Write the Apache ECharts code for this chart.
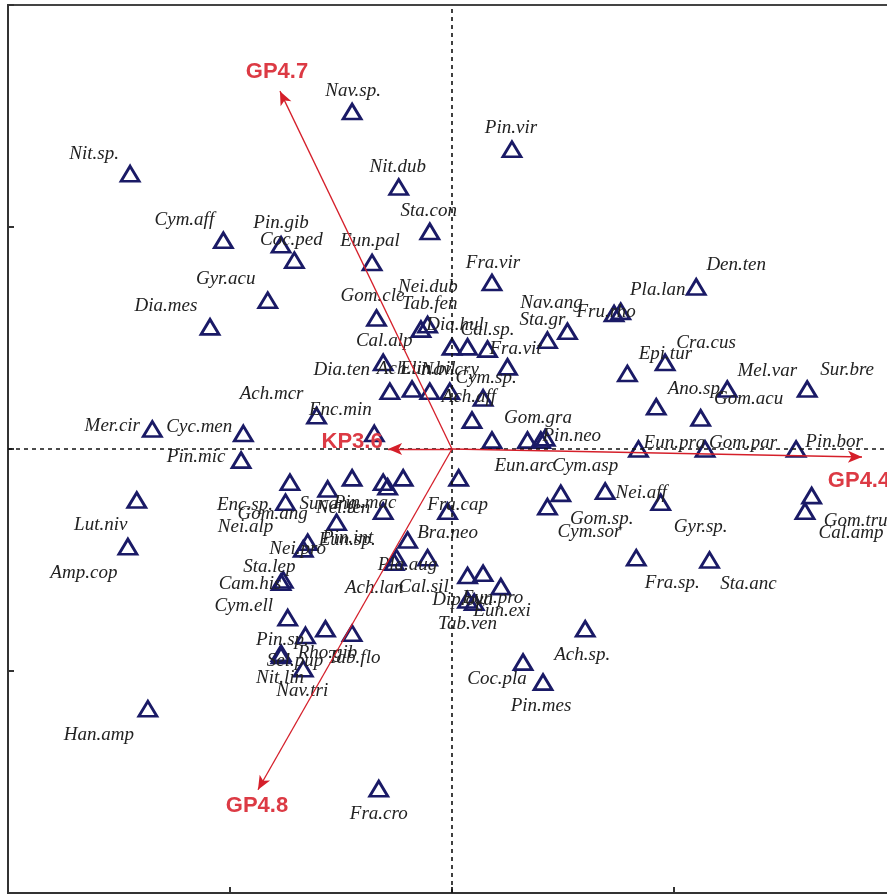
<!DOCTYPE html>
<html>
<head>
<meta charset="utf-8">
<script src="https://cdn.jsdelivr.net/npm/echarts@6/dist/echarts.min.js"></script>
<style>
html, body { margin: 0; padding: 0; background: #fff; }
#chart { width: 887px; height: 895px; }
</style>
</head>
<body>
<div id="chart"></div>
<script>
// species scores (axis 1, axis 2)
const speciesNames = [
  "Nav.sp.", "Nit.sp.", "Pin.vir", "Nit.dub", "Sta.con", "Cym.aff", "Pin.gib", "Coc.ped", "Eun.pal", "Gyr.acu",
  "Dia.mes", "Fra.vir", "Den.ten", "Pla.lan", "Fru.rho", "Sta.gr", "Nav.ang", "Gom.cle", "Nei.dub", "Tab.fen",
  "Dia.hul", "Cal.sp.", "Nav.rad", "Fra.vit", "Cal.alp", "Dia.ten", "Ach.lin", "Eun.bil", "Nav.cry", "Cym.sp.",
  "Ach.aff", "Ach.mcr", "Enc.min", "Gom.gra", "Eun.arc", "Pin.neo", "Cym.asp", "Mer.cir", "Cyc.men", "Pin.mic",
  "Eun.pra", "Gom.par", "Pin.bor", "Sur.bre", "Mel.var", "Ano.sp.", "Gom.acu", "Cra.cus", "Epi.tur", "Nei.aff",
  "Gyr.sp.", "Fra.sp.", "Sta.anc", "Gom.tru", "Cal.amp", "Gom.sp.", "Cym.sor", "Ach.sp.", "Coc.pla", "Pin.mes",
  "Fra.cap", "Ach.exi", "Bra.neo", "Pla.aug", "Cal.sil", "Ach.lan", "Tab.ven", "Eun.exi", "Eun.pro", "Dip.ova",
  "Nav.gre", "Lut.niv", "Amp.cop", "Han.amp", "Fra.cro", "Enc.sp.", "Nei.alp", "Gom.ang", "Pin.mac", "Sur.ang",
  "Nei.ten", "Sel.lae", "Pin.int", "Eun.sp.", "Nei.pro", "Nei.gro", "Sta.lep", "Cam.his", "Cym.ell", "Pin.sp.",
  "Rho.gib", "Tab.flo", "Sel.pup", "Nit.lin", "Nav.tri"
];
const speciesX = [
  -0.45, -1.45, 0.27, -0.24, -0.10, -1.03, -0.77, -0.71, -0.36, -0.83,
  -1.09, 0.18, 1.10, 0.76, 0.73, 0.43, 0.52, -0.34, -0.14, -0.11,
  0.00, 0.07, 0.16, 0.25, -0.31, -0.28, -0.18, -0.10, -0.01, 0.14,
  0.09, -0.61, -0.35, 0.18, 0.34, 0.40, 0.42, -1.35, -0.94, -0.95,
  0.84, 1.14, 1.55, 1.60, 1.24, 0.92, 1.12, 0.96, 0.79, 0.69,
  0.94, 0.83, 1.16, 1.62, 1.59, 0.49, 0.43, 0.60, 0.32, 0.41,
  0.03, -0.02, -0.20, -0.25, -0.11, -0.26, 0.07, 0.14, 0.22, 0.07,
  0.10, -1.42, -1.46, -1.37, -0.33, -0.73, -0.75, -0.56, -0.45, -0.31,
  -0.22, -0.29, -0.52, -0.31, -0.65, -0.67, -0.76, -0.77, -0.74, -0.66,
  -0.57, -0.45, -0.77, -0.77, -0.67
];
const speciesY = [
  1.52, 1.24, 1.35, 1.18, 0.98, 0.94, 0.92, 0.85, 0.84, 0.67,
  0.55, 0.75, 0.73, 0.62, 0.61, 0.49, 0.53, 0.59, 0.54, 0.56,
  0.46, 0.46, 0.45, 0.37, 0.39, 0.26, 0.27, 0.26, 0.26, 0.23,
  0.13, 0.15, 0.07, 0.04, 0.04, 0.04, 0.05, 0.09, 0.07, -0.05,
  0.00, 0.00, 0.00, 0.27, 0.27, 0.19, 0.14, 0.39, 0.34, -0.19,
  -0.24, -0.49, -0.50, -0.21, -0.28, -0.20, -0.26, -0.81, -0.96, -1.05,
  -0.13, -0.28, -0.41, -0.49, -0.49, -0.51, -0.57, -0.56, -0.62, -0.68,
  -0.69, -0.23, -0.44, -1.17, -1.53, -0.15, -0.24, -0.18, -0.13, -0.15,
  -0.13, -0.17, -0.33, -0.28, -0.42, -0.45, -0.59, -0.60, -0.76, -0.84,
  -0.81, -0.83, -0.92, -0.93, -0.99
];

// environmental vectors
const vectorNames = ["GP4.7", "GP4.8", "KP3.6", "GP4.4"];
const vectorX = [-0.775, -0.874, -0.288, 1.847];
const vectorY = [1.612, -1.535, 0, -0.036];

// where each label sits, in px from its triangle (null: label lost under the others)
const labelShift = [
  [1, -21], [-36, -20], [-1, -21], [-1, -20], [-1, -20], [-39, -20], [0, -22], [-3, -20], [-2, -22], [-42, -21],
  [-44, -21], [1, -20], [40, -22], [37, -21], [-8, -2], [-5, -20], [-16, -28], [-4, -22], [7, -42], [2, -21],
  [3, -22], [20, -17], null, [8, -18], [1, -21], [-48, -21], [-8, -20], [-2, -22], [0, -21], [3, -20],
  [-3, -23], [-45, -22], [-34, -23], [46, -22], [-3, 26], [31, -4], [40, 28], [-40, -3], [-44, -6], [-45, -3],
  [36, -6], [38, -6], [38, -7], [40, -19], [40, -18], [40, -18], [48, -19], [41, -19], [38, -20], [36, 2],
  [40, 25], [36, 25], [39, 24], [44, 25], [46, 22], [41, 26], [42, 25], [-3, 26], [-26, 17], [-2, 24],
  [-1, 27], null, [40, -7], [11, 7], [-4, 29], [-20, 26], [0, 48], [19, 38], [-8, 11], [-5, 0],
  null, [-36, 25], [-44, 26], [-49, 26], [0, 25], [-45, 23], [-40, 25], [-55, 25], [13, 25], [-55, 22],
  [-60, 30], null, [11, 16], [-36, 29], [-10, 7], null, [-14, -13], [-31, 2], [-44, -12], [-23, 5],
  [2, 24], [2, 25], [14, 8], [-1, 23], [-1, 22]
];
const vectorLabelShift = [[-3, -19], [-1, 16], [-36, -7], [-3, 24]];

let chart = echarts.init(document.getElementById("chart"));

let axisCommon = {
  type: "value",
  min: -2,
  max: 2,
  interval: 1,
  axisLine: { onZero: false, lineStyle: { color: "#333", width: 2 } },
  axisTick: { show: true, inside: true, length: 6, lineStyle: { color: "#333", width: 2 } },
  axisLabel: { show: false },
  splitLine: { show: false }
};

let option = {
  animation: false,
  backgroundColor: "#fff",
  grid: {
    left: 8,
    top: 5,
    width: 888,
    height: 888,
    show: true,
    borderColor: "#444",
    borderWidth: 2,
    outerBoundsMode: "none"
  },
  xAxis: Object.assign({}, axisCommon),
  yAxis: Object.assign({}, axisCommon),
  series: [
    {
      name: "zero",
      type: "line",
      data: [],
      markLine: {
        silent: true,
        symbol: "none",
        label: { show: false },
        lineStyle: { color: "#111", width: 1.6, type: [4, 4] },
        data: [{ xAxis: 0 }, { yAxis: 0 }]
      }
    },
    {
      name: "vectors",
      type: "line",
      data: [],
      markLine: {
        silent: true,
        symbol: ["none", "arrow"],
        symbolSize: [9, 14],
        label: { show: false },
        lineStyle: { color: "#d51f2a", width: 1.3, type: "solid", opacity: 1 },
        data: vectorNames.map((n, i) => [{ coord: [0, 0] }, { coord: [vectorX[i], vectorY[i]] }])
      }
    },
    {
      name: "species",
      type: "scatter",
      symbol: "triangle",
      symbolSize: [18, 15],
      itemStyle: { color: "rgba(0,0,0,0)", borderColor: "#1a1a66", borderWidth: 2.8, opacity: 1 },
      label: {
        show: true,
        position: "inside",
        formatter: "{b}",
        fontFamily: "Liberation Serif",
        fontStyle: "italic",
        fontSize: 19,
        color: "#222"
      },
      data: speciesNames.map((n, i) => ({
        name: n,
        value: [speciesX[i], speciesY[i]],
        label: { show: labelShift[i] != null, offset: labelShift[i] || [0, 0] }
      }))
    },
    {
      name: "vectorLabels",
      type: "scatter",
      symbolSize: 0,
      silent: true,
      itemStyle: { opacity: 1 },
      label: {
        show: true,
        position: "inside",
        formatter: "{b}",
        fontFamily: "Liberation Sans",
        fontWeight: "bold",
        fontSize: 22,
        color: "#dc3a44"
      },
      data: vectorNames.map((n, i) => ({
        name: n,
        value: [vectorX[i], vectorY[i]],
        label: { offset: vectorLabelShift[i] }
      }))
    }
  ]
};

chart.setOption(option);
</script>
</body>
</html>
